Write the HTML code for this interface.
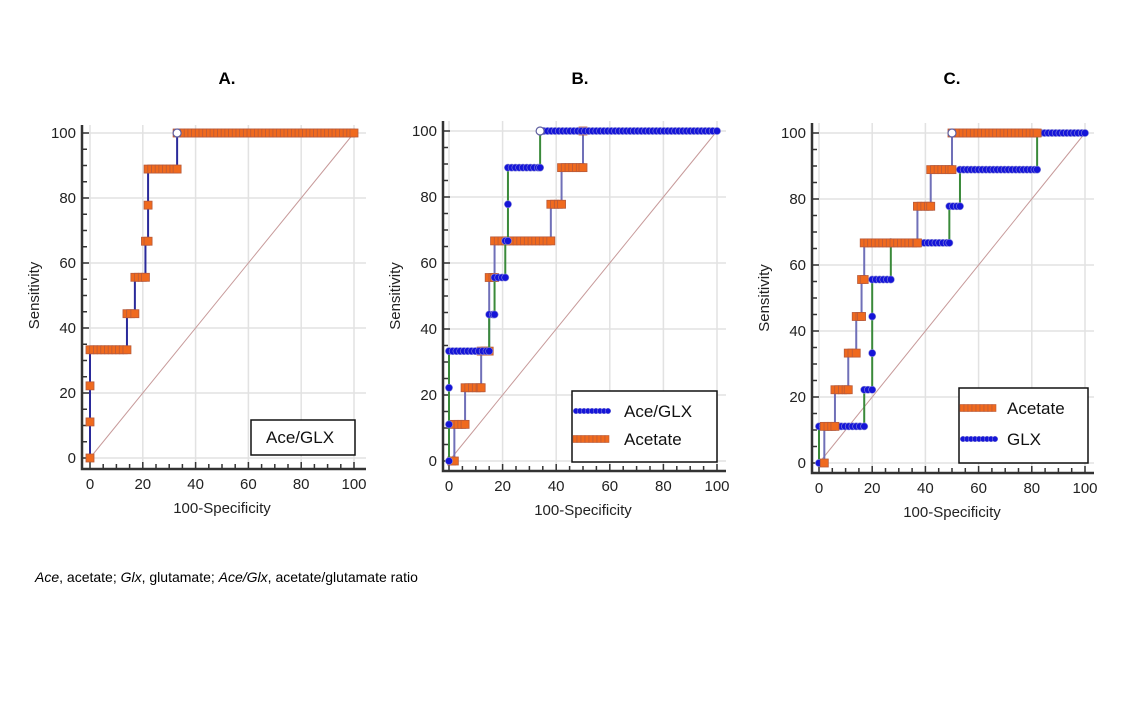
<!DOCTYPE html>
<html><head><meta charset="utf-8"><style>
body{margin:0;background:#fff;}
svg{display:block;font-family:"Liberation Sans",Arial,sans-serif;}
</style></head><body>
<svg id="s" width="1138" height="720" viewBox="0 0 1138 720">
<text x="227" y="84" font-size="17" font-weight="bold" text-anchor="middle">A.</text>
<text x="580" y="84" font-size="17" font-weight="bold" text-anchor="middle">B.</text>
<text x="952" y="84" font-size="17" font-weight="bold" text-anchor="middle">C.</text>
<text x="35" y="582" font-size="14"><tspan font-style="italic">Ace</tspan>, acetate; <tspan font-style="italic">Glx</tspan>, glutamate; <tspan font-style="italic">Ace/Glx</tspan>, acetate/glutamate ratio</text>
</svg>
<script>
const xTicks=[0,20,40,60,80,100];
const yTicks=[0,20,40,60,80,100];
// Panel A: Ace/GLX
const aAceGlxFpr=[0,0,0,0,14,17,21,22,22,33];
const aAceGlxSens=[0,11.1,22.2,33.3,44.4,55.6,66.7,77.8,88.9,100];
// Panel B
const bAceGlxFpr=[0,0,0,0,15,17,21,22,22,34];
const bAceGlxSens=[0,11.1,22.2,33.3,44.4,55.6,66.7,77.8,88.9,100];
const bAcetateFpr=[1,2,6,12,15,17,38,42,50];
const bAcetateSens=[0,11.1,22.2,33.3,55.6,66.7,77.8,88.9,100];
// Panel C
const cAcetateFpr=[2,2,6,11,14,16,17,37,42,50];
const cAcetateSens=[0,11.1,22.2,33.3,44.4,55.6,66.7,77.8,88.9,100];
const cGlxFpr=[0,0,17,20,20,20,27,49,53,82];
const cGlxSens=[0,11.1,22.2,33.3,44.4,55.6,66.7,77.8,88.9,100];
const cAcetateEnd=82;
const markerStep=1.4;

const NS="http://www.w3.org/2000/svg";
const svg=document.getElementById('s');
function mk(tag,attrs,parent){const e=document.createElementNS(NS,tag);for(const k in attrs)e.setAttribute(k,attrs[k]);(parent||svg).appendChild(e);return e;}

function panel(cfg){
  const g=mk('g',{});
  
  
  const sx=v=>cfg.x0+(cfg.x1-cfg.x0)*v/100;
  const sy=v=>cfg.y0+(cfg.y1-cfg.y0)*v/100;
  xTicks.forEach(t=>{const l=mk('line',{x1:sx(t),x2:sx(t),y1:cfg.top,y2:cfg.bottom,stroke:'#e2e2e2','stroke-width':1.5},g);
    });
  yTicks.forEach(t=>{const l=mk('line',{x1:cfg.left,x2:cfg.right,y1:sy(t),y2:sy(t),stroke:'#e2e2e2','stroke-width':1.5},g);
    });
  const d=mk('line',{x1:sx(0),y1:sy(0),x2:sx(100),y2:sy(100),stroke:'#c79a9a','stroke-width':1},g);
  
  const ax=mk('path',{d:`M${cfg.left} ${cfg.top}V${cfg.bottom}H${cfg.right}`,fill:'none',stroke:'#333','stroke-width':2.5},g);
  
  for(let t=0;t<=100;t+=5){
    const major=t%20===0;
    const tk=mk('line',{x1:sx(t),x2:sx(t),y1:cfg.bottom,y2:cfg.bottom-(major?7:5),stroke:'#333','stroke-width':1.5},g);
    
    const tk2=mk('line',{x1:cfg.left,x2:cfg.left+(major?7:5),y1:sy(t),y2:sy(t),stroke:'#333','stroke-width':1.5},g);
    
  }
  xTicks.forEach(t=>{const tx=mk('text',{x:sx(t),y:cfg.bottom+20,'font-size':15,'text-anchor':'middle',fill:'#222'},g);tx.textContent=t;
    });
  yTicks.forEach(t=>{const tx=mk('text',{x:cfg.left-6,y:sy(t)+5,'font-size':15,'text-anchor':'end',fill:'#222'},g);tx.textContent=t;
    });
  const xl=mk('text',{x:(sx(0)+sx(100))/2,y:cfg.bottom+44,'font-size':15,'text-anchor':'middle',fill:'#222'},g);xl.textContent='100-Specificity';
  
  const yl=mk('text',{x:0,y:0,'font-size':15,'text-anchor':'middle',fill:'#222',transform:`translate(${cfg.left-43},${(sy(0)+sy(100))/2}) rotate(-90)`},g);yl.textContent='Sensitivity';
  
  cfg.series.forEach(s=>{
    const sg=mk('g',{},g);
    
    const F=s.fpr,S=s.sens,end=s.end;
    let p=`M${sx(F[0])} ${sy(S[0])}`;
    const pts=[];
    for(let i=0;i<F.length;i++){
      p+=`H${sx(F[i])}V${sy(S[i])}`;
      const nx=i<F.length-1?F[i+1]:end;
      pts.push([F[i],S[i]]);
      for(let x=F[i]+markerStep;x<=nx-0.3;x+=markerStep)pts.push([x,S[i]]);
      if(nx>F[i])pts.push([nx,S[i]]);
    }
    p+=`H${sx(end)}`;
    const ln=mk('path',{d:p,fill:'none',stroke:s.line,'stroke-width':2},sg);
    
    pts.forEach(([x,y])=>{
      let m;
      if(s.marker==='sq'){m=mk('rect',{x:sx(x)-4,y:sy(y)-4,width:8,height:8,fill:'#f06a1e',stroke:'#b85a3a','stroke-width':0.8},sg);}
      else{m=mk('circle',{cx:sx(x),cy:sy(y),r:3.6,fill:'#1515d8',stroke:'#8a8ad8','stroke-width':0.6},sg);}
      
    });
    if(s.open){const o=mk('circle',{cx:sx(s.open[0]),cy:sy(s.open[1]),r:4,fill:'#fff',stroke:'#6060a0','stroke-width':1.2},sg);
      }
  });
  const L=cfg.legend;
  const lg=mk('g',{},g);
  mk('rect',{x:L.x,y:L.y,width:L.w,height:L.h,fill:'#fff',stroke:'#111','stroke-width':1.5},lg);
  L.items.forEach((it,i)=>{
    const yy=L.y+L.pad+i*L.gap;
    const eg=mk('g',{},lg);
    if(it.marker){
      for(let k=0;k<9;k++){
        if(it.marker==='sq')mk('rect',{x:L.x+1+k*4,y:yy-3.5,width:4,height:7,fill:'#f06a1e',stroke:'#b85a3a','stroke-width':0.6},eg);
        else mk('circle',{cx:L.x+4+k*4,cy:yy,r:2.8,fill:'#1515d8',stroke:'#8a8ad8','stroke-width':0.5},eg);
      }
    }
    const t=mk('text',{x:L.x+L.tx,y:yy+6,'font-size':17,fill:'#111'},eg);t.textContent=it.label;
  });
}

panel({name:'panel-a-chart',x0:90,x1:354,y0:458,y1:133,left:82,right:366,top:125,bottom:469,
  series:[{name:'series-ace-glx',fpr:aAceGlxFpr,sens:aAceGlxSens,end:100,line:'#2a2a9a',marker:'sq',open:[33,100]}],
  legend:{x:251,y:420,w:104,h:35,pad:17,gap:0,tx:15,items:[{label:'Ace/GLX'}]}});
panel({name:'panel-b-chart',x0:449,x1:717,y0:461,y1:131,left:443,right:726,top:121,bottom:471,
  series:[{name:'series-acetate',fpr:bAcetateFpr,sens:bAcetateSens,end:50,line:'#7070b8',marker:'sq'},
          {name:'series-ace-glx',fpr:bAceGlxFpr,sens:bAceGlxSens,end:100,line:'#3a8a3a',marker:'ci',open:[34,100]}],
  legend:{x:572,y:391,w:145,h:71,pad:20,gap:28,tx:52,items:[{label:'Ace/GLX',marker:'ci'},{label:'Acetate',marker:'sq'}]}});
panel({name:'panel-c-chart',x0:819,x1:1085,y0:463,y1:133,left:812,right:1094,top:123,bottom:473,
  series:[{name:'series-glx',fpr:cGlxFpr,sens:cGlxSens,end:100,line:'#3a8a3a',marker:'ci',open:[27,66.7]},
          {name:'series-acetate',fpr:cAcetateFpr,sens:cAcetateSens,end:cAcetateEnd,line:'#7070b8',marker:'sq',open:[50,100]}],
  legend:{x:959,y:388,w:129,h:75,pad:20,gap:31,tx:48,items:[{label:'Acetate',marker:'sq'},{label:'GLX',marker:'ci'}]}});
</script>
</body></html>
